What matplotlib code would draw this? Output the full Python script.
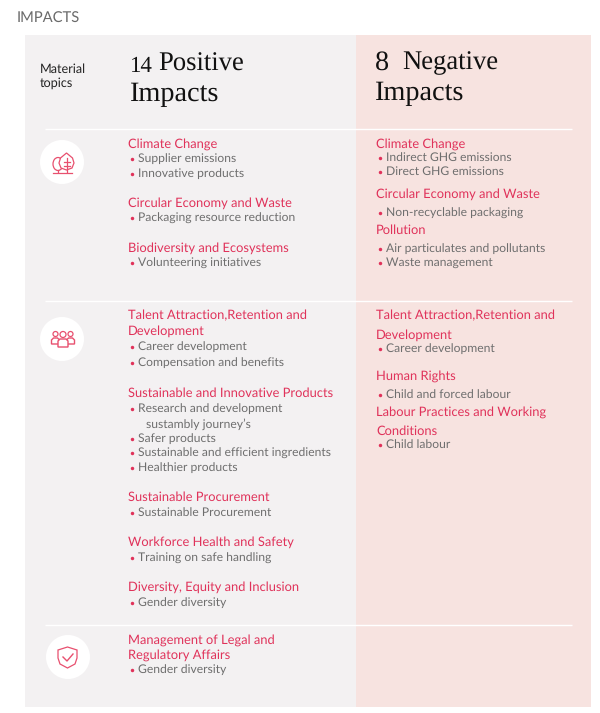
import matplotlib
matplotlib.use('Agg')
import matplotlib.pyplot as plt
from matplotlib.patches import Circle, Rectangle, Polygon, Ellipse

# text of the two columns
pos_heads = ['Climate Change', 'Circular Economy and Waste', 'Biodiversity and Ecosystems',
             'Talent Attraction,Retention and', 'Development', 'Sustainable and Innovative Products',
             'Sustainable Procurement', 'Workforce Health and Safety', 'Diversity, Equity and Inclusion',
             'Management of Legal and', 'Regulatory Affairs']
pos_items = ['Supplier emissions', 'Innovative products', 'Packaging resource reduction', 'Volunteering initiatives',
             'Career development', 'Compensation and benefits', 'Research and development',
             'Safer products', 'Sustainable and efficient ingredients', 'Healthier products',
             'Sustainable Procurement', 'Training on safe handling', 'Gender diversity', 'Gender diversity']
neg_heads = ['Climate Change', 'Circular Economy and Waste', 'Pollution', 'Talent Attraction,Retention and',
             'Development', 'Human Rights', 'Labour Practices and Working', 'Conditions']
neg_items = ['Indirect GHG emissions', 'Direct GHG emissions', 'Non-recyclable packaging',
             'Air particulates and pollutants', 'Waste management', 'Career development',
             'Child and forced labour', 'Child labour']

# text centres in pixels
pos_head_y = [143, 202, 247, 315, 330, 392, 496, 541, 586, 639, 654]
pos_item_y = [158, 173, 217, 262, 346, 362, 408, 438, 452, 467, 512, 557, 602, 669]
neg_head_y = [143, 193, 229, 315, 334, 375, 411, 430]
neg_item_y = [157, 171, 212, 248, 262, 348, 394, 444]

RED = '#e0325a'
ICON = '#e8506f'
GREY = '#6e6e6e'
HEAD = 9.3
ITEM = 8.7

plt.rcParams['font.family'] = ['Lato', 'DejaVu Sans']
plt.rcParams['text.hinting'] = 'no_hinting'

fig = plt.figure(figsize=(6, 7.13), dpi=100)
ax = fig.add_axes([0, 0, 1, 1])
ax.set_xlim(0, 600)
ax.set_ylim(713, 0)
ax.axis('off')

# panels and separators
ax.add_patch(Rectangle((25, 35), 331, 672, fc='#f3f1f2', ec='none'))
ax.add_patch(Rectangle((356, 35), 235, 672, fc='#f7e3e0', ec='none'))
for y in [129, 301, 625]:
    ax.plot([45, 572], [y, y], color='white', lw=1.0, solid_capstyle='butt')

ax.text(17, 19, 'IMPACTS', fontsize=10.6, color='#6a6a6a', va='center')
ax.text(40, 69.5, 'Material', fontsize=9.1, color='#222222', va='center')
ax.text(40, 83.5, 'topics', fontsize=9.1, color='#222222', va='center')

serif = 'Liberation Serif'
ax.text(130, 66, '14', family=serif, fontsize=16.5, color='#111111', va='center')
ax.text(158, 64, 'Positive', family=serif, fontsize=19.2, color='#111111', va='center')
ax.text(130, 94, 'Impacts', family=serif, fontsize=20.3, color='#111111', va='center')
ax.text(375, 63, '8', family=serif, fontsize=20.3, color='#111111', va='center')
ax.text(402, 63, 'Negative', family=serif, fontsize=19.2, color='#111111', va='center')
ax.text(375, 93, 'Impacts', family=serif, fontsize=20.3, color='#111111', va='center')


def column(heads, head_y, items, item_y, x):
    for t, y in zip(heads, head_y):
        ax.text(x, y + 1, t, fontsize=HEAD, color=RED, va='center')
    for t, y in zip(items, item_y):
        ax.plot([x + 3.5], [y + 0.5], 'o', ms=2.5, color=RED, mec='none')
        ax.text(x + 10.5, y + 1, t, fontsize=ITEM, color=GREY, va='center')


column(pos_heads, pos_head_y, pos_items, pos_item_y, 128)
column(neg_heads, neg_head_y, neg_items, neg_item_y, 376)
ax.text(146, 424, 'sustambly journey\u2019s', fontsize=ITEM, color=GREY, va='center')

# icons
for cx, cy in [(62, 162), (62, 339), (68, 657)]:
    ax.add_patch(Circle((cx, cy), 22, fc='white', ec='none'))

kw = dict(fc='none', ec=ICON, lw=0.9)
# trees
ax.add_patch(Ellipse((58, 164), 10, 13, **kw))
ax.add_patch(Polygon([(66.5, 153), (60.5, 158), (59, 163), (61, 168), (66.5, 170), (72, 168), (74, 163), (72.5, 158)],
                     closed=True, fc='white', ec=ICON, lw=0.9))
ax.plot([53, 72], [172.5, 172.5], color=ICON, lw=0.9)
ax.plot([66.5, 66.5], [158, 172], color=ICON, lw=0.9)
ax.plot([63.5, 69.5], [162, 162], color=ICON, lw=0.9)
ax.plot([63.5, 69.5], [166, 166], color=ICON, lw=0.9)
ax.plot([58, 58], [170, 172], color=ICON, lw=0.9)

# people
for cx, r, top, hw, bot in [(55.5, 2.5, 338, 4, 344), (70.5, 2.5, 338, 4, 344), (63, 3, 339, 5, 347)]:
    ax.add_patch(Circle((cx, top - r - 1.5), r, **kw))
    ax.add_patch(Polygon([(cx - hw, bot), (cx - hw, top + 2), (cx - hw + 2, top), (cx + hw - 2, top),
                          (cx + hw, top + 2), (cx + hw, bot)], closed=True, fc='white', ec=ICON, lw=1.0))

# shield
shield = [(67.5, 647), (58, 650), (58, 658), (60, 664), (67.5, 668), (75, 664), (77, 658), (77, 650)]
ax.add_patch(Polygon(shield, closed=True, **kw))
ax.plot([63, 67, 73], [657, 661, 654], color=ICON, lw=1.0)

fig.savefig('out.png', dpi=100)
